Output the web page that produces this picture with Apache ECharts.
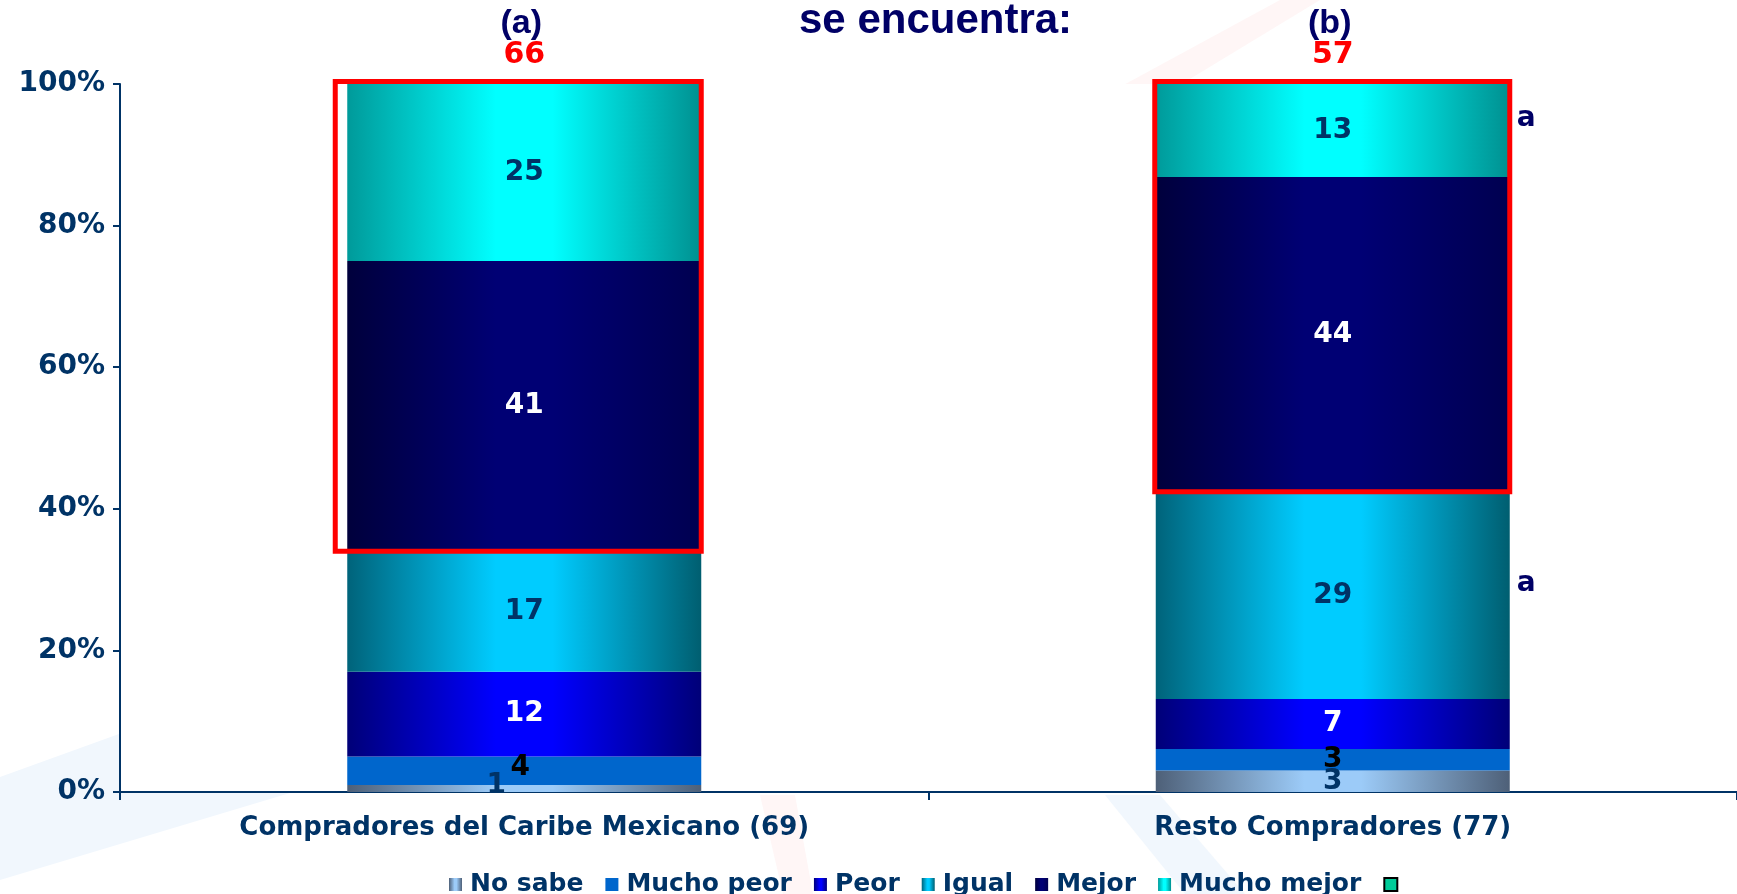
<!DOCTYPE html>
<html><head><meta charset="utf-8">
<script src="https://cdn.jsdelivr.net/npm/echarts@6/dist/echarts.min.js"></script>
<style>html,body{margin:0;padding:0;background:#fff}#c{width:1737px;height:894px}</style>
</head><body><div id="c"></div>
<script>
// ---- data ----
const categories = ['Compradores del Caribe Mexicano (69)', 'Resto Compradores (77)'];
const groupLetters = ['(a)', '(b)'];
const seriesNames = ['No sabe', 'Mucho peor', 'Peor', 'Igual', 'Mejor', 'Mucho mejor'];
const noSabe = [1, 3];
const muchoPeor = [4, 3];
const peor = [12, 7];
const igual = [17, 29];
const mejor = [41, 44];
const muchoMejor = [25, 13];
const topTwoTotal = [66, 57];
const sigIgual = ['', 'a'];
const sigMuchoMejor = ['', 'a'];
const yTicks = [0, 20, 40, 60, 80, 100];

// ---- build ----
const raw = [noSabe, muchoPeor, peor, igual, mejor, muchoMejor];
const totals = categories.map((c, i) => raw.reduce((s, arr) => s + arr[i], 0));
const shares = raw.map(arr => arr.map((v, i) => v / totals[i] * 100));
const cumBefore = (k, i) => shares.slice(0, k).reduce((s, arr) => s + arr[i], 0);

const BAR_W = 354;
const NAVY = '#003366';
const DEEP = '#000066';
const F = '"DejaVu Sans", Verdana, sans-serif';
const FA = '"Liberation Sans", Arial, sans-serif';

function grad(edge, center, edge2) {
  return new echarts.graphic.LinearGradient(0, 0, 1, 0, [
    {offset: 0, color: edge}, {offset: 0.42, color: center},
    {offset: 0.58, color: center}, {offset: 1, color: edge2 || edge}
  ]);
}
const colors = [
  grad('#4e6078', '#9ccbf8'),
  '#0066cc',
  grad('#000078', '#0000ff'),
  grad('#00637a', '#00ccff', '#005e70'),
  grad('#00003c', '#000074', '#000050'),
  grad('#009a9a', '#00ffff', '#009090')
];
const labelColors = [NAVY, '#000000', '#ffffff', NAVY, '#ffffff', NAVY];

const barSeries = seriesNames.map((name, k) => ({
  name, type: 'bar', stack: 'total', barWidth: BAR_W,
  itemStyle: {color: colors[k]},
  label: {
    show: true, position: 'inside',
    color: labelColors[k], fontFamily: F, fontWeight: 'bold', fontSize: 28,
    formatter: p => String(raw[k][p.dataIndex])
  },
  data: shares[k].map((v, i) => {
    if (k === 0 && i === 0) return {value: v, label: {offset: [-28, -3]}};
    if (k === 1 && i === 0) return {value: v, label: {offset: [-4, -3]}};
    return v;
  })
}));

const boxData = categories.map((c, i) => [i, cumBefore(4, i), 100, topTwoTotal[i]]);
const sigData = [];
categories.forEach((c, i) => {
  if (sigIgual[i]) sigData.push([i, cumBefore(3, i) + shares[3][i] / 2, sigIgual[i]]);
  if (sigMuchoMejor[i]) sigData.push([i, cumBefore(5, i) + shares[5][i] / 2, sigMuchoMejor[i]]);
});

const option = {
  animation: false,
  backgroundColor: '#ffffff',
  title: {
    text: 'se encuentra:', left: 794, top: -5,
    textStyle: {color: DEEP, fontFamily: FA, fontWeight: 'bold', fontSize: 42}
  },
  graphic: {elements: [
    {type: 'polygon', z: -10, shape: {points: [[0, 777], [600, 560], [600, 700], [0, 880]]}, style: {fill: '#f1f7fd'}},
    {type: 'polygon', z: -10, shape: {points: [[1118, 88], [1175, 88], [1320, 0], [1280, 0]]}, style: {fill: '#fff6f6'}},
    {type: 'polygon', z: -10, shape: {points: [[760, 795], [795, 795], [813, 894], [783, 894]]}, style: {fill: '#fff6f6'}},
    {type: 'polygon', z: -10, shape: {points: [[1105, 795], [1160, 795], [1245, 894], [1185, 894]]}, style: {fill: '#f1f7fd'}}
  ]},
  grid: {left: 120, top: 84, width: 1632, height: 708, show: true, backgroundColor: '#ffffff', borderWidth: 0},
  legend: {
    left: 444, top: 867, itemWidth: 13, itemHeight: 13, itemGap: 22, icon: 'rect',
    data: seriesNames.concat([' ']),
    formatter: n => n.trim() ? n : '',
    textStyle: {color: NAVY, fontFamily: F, fontWeight: 'bold', fontSize: 25, padding: [0, 0, 0, 3]}
  },
  xAxis: {
    type: 'category', data: categories,
    axisLine: {lineStyle: {color: NAVY, width: 2}},
    axisTick: {show: true, length: 8, lineStyle: {color: NAVY, width: 2}},
    axisLabel: {color: NAVY, fontFamily: F, fontWeight: 'bold', fontSize: 26, margin: 23}
  },
  yAxis: {
    type: 'value', min: yTicks[0], max: yTicks[yTicks.length - 1], interval: yTicks[1] - yTicks[0],
    splitLine: {show: false},
    axisLine: {show: true, lineStyle: {color: NAVY, width: 2}},
    axisTick: {show: true, length: 7, lineStyle: {color: NAVY, width: 2}},
    axisLabel: {color: NAVY, fontFamily: F, fontWeight: 'bold', fontSize: 28, margin: 15, formatter: v => v + '%'}
  },
  series: barSeries.concat([
    {name: ' ', type: 'bar', stack: 'total', barWidth: BAR_W, data: [],
     itemStyle: {color: '#00cc99', borderColor: '#000000', borderWidth: 2}},
    {
      type: 'custom', z: 10, silent: true, data: boxData,
      renderItem(params, api) {
        const i = api.value(0);
        const lo = api.coord([i, api.value(1)]);
        const hi = api.coord([i, api.value(2)]);
        const half = BAR_W / 2;
        const x0 = lo[0] - half - (i === 0 ? 12 : 1), x1 = lo[0] + half;
        return {type: 'group', children: [
          {type: 'rect', shape: {x: x0, y: hi[1] - 2.5, width: x1 - x0, height: lo[1] - hi[1] + 2.5},
           style: {fill: 'none', stroke: '#ff0000', lineWidth: 5}},
          {type: 'text', x: lo[0], y: hi[1] - 29,
           style: {text: String(api.value(3)), fill: '#ff0000', font: 'bold 30px ' + F, align: 'center', verticalAlign: 'middle'}},
          {type: 'text', x: lo[0] - 3, y: hi[1] - 60,
           style: {text: groupLetters[params.dataIndex], fill: DEEP, font: 'bold 34px ' + FA, align: 'center', verticalAlign: 'middle'}}
        ]};
      }
    },
    {
      type: 'custom', z: 10, silent: true, data: sigData,
      renderItem(params, api) {
        const p = api.coord([api.value(0), api.value(1)]);
        return {type: 'text', x: p[0] + BAR_W / 2 + 7, y: p[1] - 12,
          style: {text: sigData[params.dataIndex][2], fill: DEEP, font: 'bold 28px ' + F, align: 'left', verticalAlign: 'middle'}};
      }
    }
  ])
};
const chart = echarts.init(document.getElementById('c'), null, {renderer: 'canvas'});
chart.setOption(option);
</script></body></html>
